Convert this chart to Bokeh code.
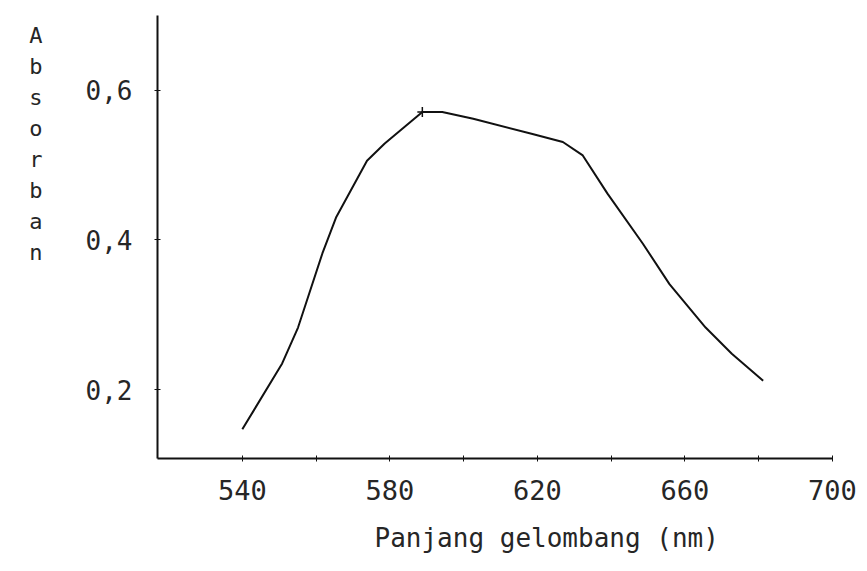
from bokeh.plotting import figure
from bokeh.models import FixedTicker, Range1d, Title
from bokeh.embed import file_html
from bokeh.resources import INLINE

# Data
wavelength = [540.0, 550.8, 555.1, 561.7, 565.4, 573.8, 578.6, 588.8, 594.2, 602.6, 618.4, 626.9, 632.3, 639.0, 648.6, 655.8, 665.6, 672.7, 681.2]
absorbance = [0.147, 0.235, 0.283, 0.382, 0.430, 0.506, 0.529, 0.571, 0.571, 0.562, 0.542, 0.531, 0.513, 0.462, 0.395, 0.341, 0.283, 0.248, 0.212]
peak_x = [588.8]
peak_y = [0.571]
x_ticks = [540, 560, 580, 600, 620, 640, 660, 680, 700]
x_tick_labels = {540: "540", 560: "", 580: "580", 600: "", 620: "620", 640: "", 660: "660", 680: "", 700: "700"}
y_ticks = [0.2, 0.4, 0.6]
y_tick_labels = {0.2: "0,2", 0.4: "0,4", 0.6: "0,6"}
x_title = "Panjang gelombang (nm)"
y_title = "Absorban"

FONT = "DejaVu Sans Mono"
INK = "#262626"

p = figure(width=859, height=571, output_backend="svg", toolbar_location=None,
           x_range=Range1d(517, 700), y_range=Range1d(0.108, 0.700),
           min_border_left=157, min_border_right=27, min_border_top=15, min_border_bottom=113)
p.outline_line_color = None
p.grid.visible = False
p.background_fill_color = "white"
p.border_fill_color = "white"

p.line(wavelength, absorbance, line_color="#111111", line_width=2)
p.scatter(peak_x, peak_y, marker="cross", size=10, line_color="#111111", line_width=1.5)

xa = p.xaxis[0]
xa.ticker = FixedTicker(ticks=x_ticks)
xa.major_label_overrides = x_tick_labels
xa.minor_tick_line_color = None
xa.major_tick_in = 3
xa.major_tick_out = 3
xa.axis_line_width = 2
xa.axis_line_color = "#111111"
xa.major_tick_line_color = "#111111"
xa.major_label_text_font = FONT
xa.major_label_text_font_size = "27px"
xa.major_label_text_color = INK
xa.major_label_standoff = 18

ya = p.yaxis[0]
ya.ticker = FixedTicker(ticks=y_ticks)
ya.major_label_overrides = y_tick_labels
ya.minor_tick_line_color = None
ya.major_tick_in = 3
ya.major_tick_out = 3
ya.axis_line_width = 2
ya.axis_line_color = "#111111"
ya.major_tick_line_color = "#111111"
ya.major_label_text_font = FONT
ya.major_label_text_font_size = "26px"
ya.major_label_text_color = INK
ya.major_label_standoff = 22
# stacked upright letters; trailing empty lines lift the block toward the top
ya.axis_label = "\n".join(y_title) + "\n" * 6
ya.axis_label_orientation = "horizontal"
ya.axis_label_align = "center"
ya.axis_label_text_font = FONT
ya.axis_label_text_font_size = "22px"
ya.axis_label_text_font_style = "normal"
ya.axis_label_text_color = INK
ya.axis_label_text_line_height = 1.24
ya.axis_label_standoff = 40

xt = Title(text=x_title, align="left", offset=217, standoff=37, vertical_align="bottom",
           text_font=FONT, text_font_size="26px", text_font_style="normal",
           text_color=INK)
p.add_layout(xt, "below")

open("out.html", "w").write(file_html(p, INLINE))
